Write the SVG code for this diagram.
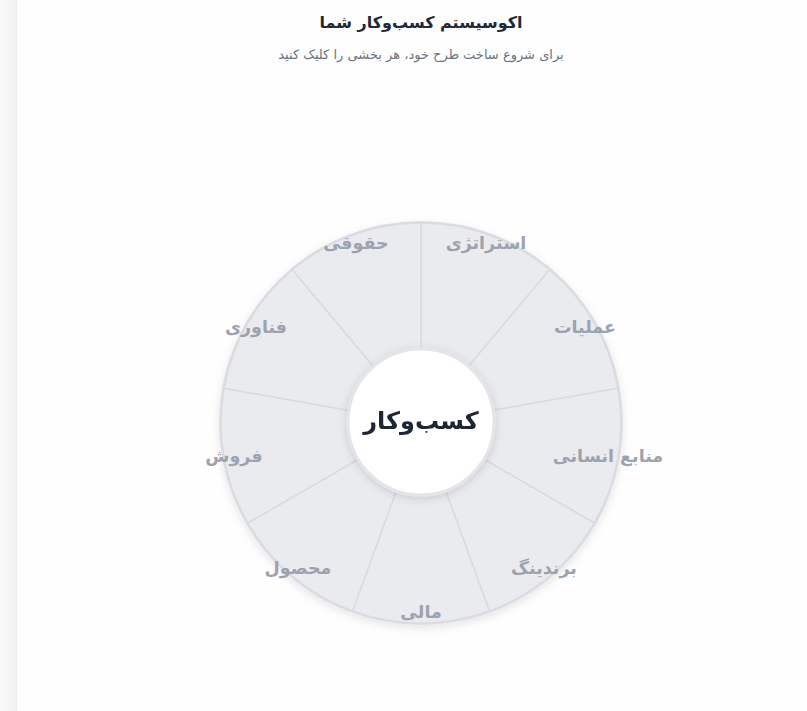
<svg xmlns="http://www.w3.org/2000/svg" width="807" height="711" viewBox="0 0 807 711">
<defs>
<linearGradient id="edge" x1="0" y1="0" x2="1" y2="0">
<stop offset="0" stop-color="#fbfbfb"/>
<stop offset="1" stop-color="#f1f1f1"/>
</linearGradient>
<filter id="wheelShadow" x="-20%" y="-20%" width="140%" height="140%">
<feDropShadow dx="0" dy="3" stdDeviation="4" flood-color="#000" flood-opacity="0.10"/>
</filter>
<filter id="hubShadow" x="-30%" y="-30%" width="160%" height="160%">
<feDropShadow dx="0" dy="2" stdDeviation="4" flood-color="#000" flood-opacity="0.14"/>
</filter>
</defs>
<style>
.seg{fill:#eaebee;stroke:#d9dbe0;stroke-width:1.5}
.lbl{font-family:"DejaVu Sans",sans-serif;font-size:17.5px;font-weight:bold;fill:#9ca3af;text-anchor:middle;dominant-baseline:central;direction:rtl}
.title{font-family:"DejaVu Sans",sans-serif;font-size:16px;font-weight:bold;fill:#1f2937;text-anchor:middle;direction:rtl}
.sub{font-family:"DejaVu Sans",sans-serif;font-size:13px;fill:#6b7280;text-anchor:middle;direction:rtl}
.hubtxt{font-family:"DejaVu Sans",sans-serif;font-size:24px;font-weight:bold;fill:#1e2535;text-anchor:middle;dominant-baseline:central;direction:rtl}
</style>
<rect width="807" height="711" fill="#fefefe"/>
<rect x="0" y="0" width="16" height="711" fill="url(#edge)"/>
<line x1="16.5" y1="0" x2="16.5" y2="711" stroke="#ececec" stroke-width="1"/>
<text class="title" x="421" y="28">اکوسیستم کسب&#x200C;وکار شما</text>
<text class="sub" x="421" y="59">برای شروع ساخت طرح خود، هر بخشی را کلیک کنید</text>
<g id="wheel" filter="url(#wheelShadow)">
<circle cx="421" cy="423" r="201" fill="#eaebee" stroke="#dcdee3" stroke-width="2"/>
<g id="seg-strategy"><path class="seg" d="M421 423 L421 223 A200 200 0 0 1 549.56 269.8 Z"/></g>
<g id="seg-operations"><path class="seg" d="M421 423 L549.56 269.8 A200 200 0 0 1 617.96 388.27 Z"/></g>
<g id="seg-hr"><path class="seg" d="M421 423 L617.96 388.27 A200 200 0 0 1 594.2 523 Z"/></g>
<g id="seg-branding"><path class="seg" d="M421 423 L594.2 523 A200 200 0 0 1 489.4 610.94 Z"/></g>
<g id="seg-finance"><path class="seg" d="M421 423 L489.4 610.94 A200 200 0 0 1 352.6 610.94 Z"/></g>
<g id="seg-product"><path class="seg" d="M421 423 L352.6 610.94 A200 200 0 0 1 247.8 523 Z"/></g>
<g id="seg-sales"><path class="seg" d="M421 423 L247.8 523 A200 200 0 0 1 224.04 388.27 Z"/></g>
<g id="seg-tech"><path class="seg" d="M421 423 L224.04 388.27 A200 200 0 0 1 292.44 269.8 Z"/></g>
<g id="seg-legal"><path class="seg" d="M421 423 L292.44 269.8 A200 200 0 0 1 421 223 Z"/></g>
</g>
<g id="labels">
<text class="lbl" x="486" y="243">استراتژی</text>
<text class="lbl" x="585" y="327">عملیات</text>
<text class="lbl" x="608" y="456">منابع انسانی</text>
<text class="lbl" x="544" y="568">برندینگ</text>
<text class="lbl" x="421" y="612">مالی</text>
<text class="lbl" x="298" y="568">محصول</text>
<text class="lbl" x="234" y="456">فروش</text>
<text class="lbl" x="256" y="327">فناوری</text>
<text class="lbl" x="356" y="243">حقوقی</text>
</g>
<g id="connectors"></g>
<g id="hub" filter="url(#hubShadow)">
<circle cx="421" cy="422" r="73" fill="#ffffff" stroke="#e3e5e9" stroke-width="3"/>
<text class="hubtxt" x="421" y="421">کسب&#x200C;وکار</text>
</g>
</svg>
